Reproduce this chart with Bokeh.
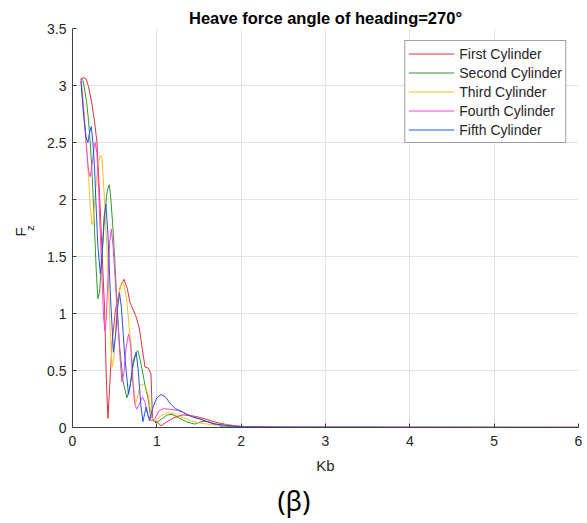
from bokeh.plotting import figure
from bokeh.models import FixedTicker, Range1d, Title
from bokeh.embed import file_html
from bokeh.resources import INLINE

title_text = "Heave force angle of heading=270°"
x_label = "Kb"
y_label_main = "F"
y_label_sub = "z"
caption = "(β)"

series_names = ["First Cylinder", "Second Cylinder", "Third Cylinder",
                "Fourth Cylinder", "Fifth Cylinder"]

x_ticks = [0, 1, 2, 3, 4, 5, 6]
x_tick_labels = ["0", "1", "2", "3", "4", "5", "6"]
y_ticks = [0, 0.5, 1, 1.5, 2, 2.5, 3, 3.5]
y_tick_labels = ["0", "0.5", "1", "1.5", "2", "2.5", "3", "3.5"]

first_x = [0.10, 0.13, 0.16, 0.19, 0.23, 0.26, 0.29, 0.32, 0.35, 0.38, 0.40, 0.42,
           0.44, 0.47, 0.51, 0.565, 0.61, 0.65, 0.68, 0.75, 0.79, 0.83, 0.86, 0.90,
           0.93, 0.95, 1.00, 1.05, 1.12, 1.20, 1.30, 1.40, 1.50, 1.60, 1.70, 1.80,
           1.90, 2.00, 2.20, 2.50, 3.00, 4.00, 5.00, 6.00]
first_y = [3.06, 3.07, 3.06, 2.99, 2.84, 2.69, 2.50, 2.05, 1.55, 1.05, 0.45, 0.08,
           0.35, 0.75, 1.03, 1.23, 1.30, 1.22, 1.10, 0.98, 0.88, 0.68, 0.53, 0.52,
           0.47, 0.06, 0.05, 0.015, 0.05, 0.085, 0.11, 0.105, 0.09, 0.07, 0.045, 0.03,
           0.018, 0.01, 0.005, 0.003, 0.002, 0.001, 0.001, 0.001]

second_x = [0.10, 0.12, 0.145, 0.17, 0.19, 0.21, 0.23, 0.255, 0.28, 0.30, 0.32, 0.35,
            0.38, 0.41, 0.435, 0.45, 0.475, 0.50, 0.53, 0.56, 0.60, 0.645, 0.68, 0.72,
            0.755, 0.775, 0.80, 0.82, 0.86, 0.90, 0.92, 0.95, 0.99, 1.05, 1.12, 1.18,
            1.25, 1.35, 1.45, 1.52, 1.60, 1.70, 1.78, 1.90, 2.00, 2.50, 6.00]
second_y = [3.06, 3.06, 2.96, 2.84, 2.69, 2.50, 2.26, 1.85, 1.40, 1.13, 1.18, 1.50,
            1.85, 2.07, 2.13, 2.05, 1.80, 1.49, 1.05, 0.70, 0.40, 0.26, 0.35, 0.55,
            0.66, 0.675, 0.60, 0.53, 0.37, 0.24, 0.12, 0.07, 0.04, 0.07, 0.11, 0.115,
            0.09, 0.05, 0.03, 0.05, 0.055, 0.03, 0.005, 0.008, 0.006, 0.002, 0.001]

third_x = [0.10, 0.13, 0.16, 0.19, 0.21, 0.23, 0.245, 0.27, 0.30, 0.33, 0.35, 0.38,
           0.41, 0.43, 0.45, 0.47, 0.49, 0.52, 0.55, 0.585, 0.61, 0.645, 0.67, 0.70,
           0.72, 0.745, 0.77, 0.80, 0.83, 0.87, 0.90, 0.93, 0.96, 1.00, 1.06, 1.13,
           1.20, 1.30, 1.40, 1.50, 1.60, 1.70, 1.80, 1.90, 2.00, 2.50, 6.00]
third_y = [3.06, 2.85, 2.55, 2.20, 1.95, 1.78, 1.80, 2.05, 2.30, 2.39, 2.35, 2.00,
           1.55, 1.20, 0.80, 0.53, 0.60, 0.95, 1.18, 1.275, 1.25, 1.11, 0.90, 0.67,
           0.40, 0.21, 0.26, 0.37, 0.38, 0.35, 0.28, 0.12, 0.05, 0.07, 0.11, 0.13,
           0.12, 0.09, 0.06, 0.04, 0.03, 0.02, 0.025, 0.015, 0.008, 0.003, 0.001]

fourth_x = [0.10, 0.13, 0.16, 0.19, 0.21, 0.235, 0.26, 0.27, 0.29, 0.31, 0.33, 0.35,
            0.37, 0.385, 0.40, 0.42, 0.44, 0.46, 0.48, 0.51, 0.535, 0.56, 0.585, 0.61,
            0.635, 0.665, 0.69, 0.71, 0.735, 0.76, 0.79, 0.83, 0.86, 0.89, 0.93, 0.97,
            1.03, 1.08, 1.15, 1.25, 1.35, 1.45, 1.60, 1.70, 1.83, 2.00, 2.50, 6.00]
fourth_y = [3.06, 2.80, 2.50, 2.25, 2.20, 2.32, 2.48, 2.50, 2.40, 2.10, 1.70, 1.30,
            0.95, 0.85, 0.95, 1.30, 1.62, 1.74, 1.60, 1.26, 0.95, 0.66, 0.40, 0.48,
            0.70, 0.82, 0.72, 0.45, 0.22, 0.16, 0.20, 0.27, 0.22, 0.12, 0.06, 0.07,
            0.15, 0.165, 0.16, 0.15, 0.12, 0.09, 0.05, 0.03, 0.018, 0.008, 0.003, 0.001]

fifth_x = [0.10, 0.13, 0.16, 0.183, 0.20, 0.222, 0.24, 0.26, 0.277, 0.30, 0.33, 0.35,
           0.375, 0.396, 0.42, 0.45, 0.486, 0.51, 0.535, 0.558, 0.58, 0.62, 0.664, 0.69,
           0.72, 0.755, 0.78, 0.81, 0.835, 0.855, 0.874, 0.89, 0.914, 0.95, 1.00, 1.05,
           1.10, 1.16, 1.22, 1.30, 1.36, 1.45, 1.51, 1.60, 1.67, 1.75, 1.83, 2.00,
           2.50, 6.00]
fifth_y = [3.04, 2.75, 2.55, 2.50, 2.58, 2.64, 2.52, 2.30, 1.99, 1.60, 1.35, 1.50,
           1.85, 1.96, 1.70, 1.15, 0.66, 0.80, 1.05, 1.18, 1.05, 0.62, 0.29, 0.40,
           0.58, 0.66, 0.50, 0.20, 0.05, 0.12, 0.18, 0.12, 0.06, 0.17, 0.26, 0.29,
           0.27, 0.21, 0.165, 0.14, 0.11, 0.085, 0.076, 0.05, 0.032, 0.025, 0.017, 0.006,
           0.003, 0.001]

series_x = [first_x, second_x, third_x, fourth_x, fifth_x]
series_y = [first_y, second_y, third_y, fourth_y, fifth_y]
colors = ["#e0323a", "#2f9a2f", "#ffc020", "#ff40d8", "#2455e0"]

FONT = "Liberation Sans"
TEXT = "#262626"

p = figure(width=587, height=523, output_backend="svg", toolbar_location=None,
           x_range=Range1d(0, 6), y_range=Range1d(0, 3.5),
           min_border_left=72, min_border_right=9, min_border_top=28,
           min_border_bottom=96)
p.outline_line_color = None
p.background_fill_color = "white"
p.border_fill_color = "white"

for xs, ys, c, n in zip(series_x, series_y, colors, series_names):
    p.line(xs, ys, line_color=c, line_width=1, legend_label=n)

p.xaxis.ticker = FixedTicker(ticks=x_ticks)
p.yaxis.ticker = FixedTicker(ticks=y_ticks)
p.xaxis.major_label_overrides = {t: l for t, l in zip(x_ticks, x_tick_labels)}
p.yaxis.major_label_overrides = {t: l for t, l in zip(y_ticks, y_tick_labels)}

for ax in (p.xaxis[0], p.yaxis[0]):
    ax.axis_line_color = "#404040"
    ax.major_tick_line_color = "#404040"
    ax.major_tick_in = 4
    ax.major_tick_out = 0
    ax.minor_tick_line_color = None
    ax.major_label_text_font = FONT
    ax.major_label_text_font_size = "14px"
    ax.major_label_text_color = TEXT
    ax.axis_label_text_font = FONT
    ax.axis_label_text_font_size = "15px"
    ax.axis_label_text_font_style = "normal"
    ax.axis_label_text_color = TEXT

p.xaxis.axis_label = x_label
p.xaxis.major_label_standoff = 8
p.xaxis.axis_label_standoff = 8
p.yaxis.major_label_standoff = 6

# subscript "z" as the y axis label, main "F" as a side title just outside it
p.yaxis.axis_label = y_label_sub
p.yaxis.axis_label_text_font_size = "11.5px"
p.yaxis.axis_label_standoff = 8

p.grid.grid_line_color = "#e2e2e2"
p.grid.grid_line_width = 1

p.title.text = title_text
p.title.align = "center"
p.title.text_font = FONT
p.title.text_font_size = "16.5px"
p.title.text_font_style = "bold"
p.title.text_color = "black"
p.title.standoff = 4

p.add_layout(Title(text=y_label_main, align="left", offset=191, standoff=-14,
                   text_font=FONT, text_font_size="15px", text_font_style="normal",
                   text_color=TEXT), "left")
p.add_layout(Title(text=caption, align="left", offset=205, standoff=6,
                   text_font="Noto Sans", text_font_size="27px",
                   text_font_style="normal", text_color="black"), "below")

lg = p.legend[0]
lg.location = "top_right"
lg.margin = 12
lg.padding = 3
lg.spacing = 0
lg.label_height = 19
lg.glyph_height = 19
lg.glyph_width = 46
lg.label_standoff = 5
lg.label_text_font = FONT
lg.label_text_font_size = "14px"
lg.label_text_color = TEXT
lg.border_line_color = "#404040"
lg.border_line_width = 1
lg.background_fill_color = "white"
lg.background_fill_alpha = 1

open("out.html", "w").write(file_html(p, INLINE))
